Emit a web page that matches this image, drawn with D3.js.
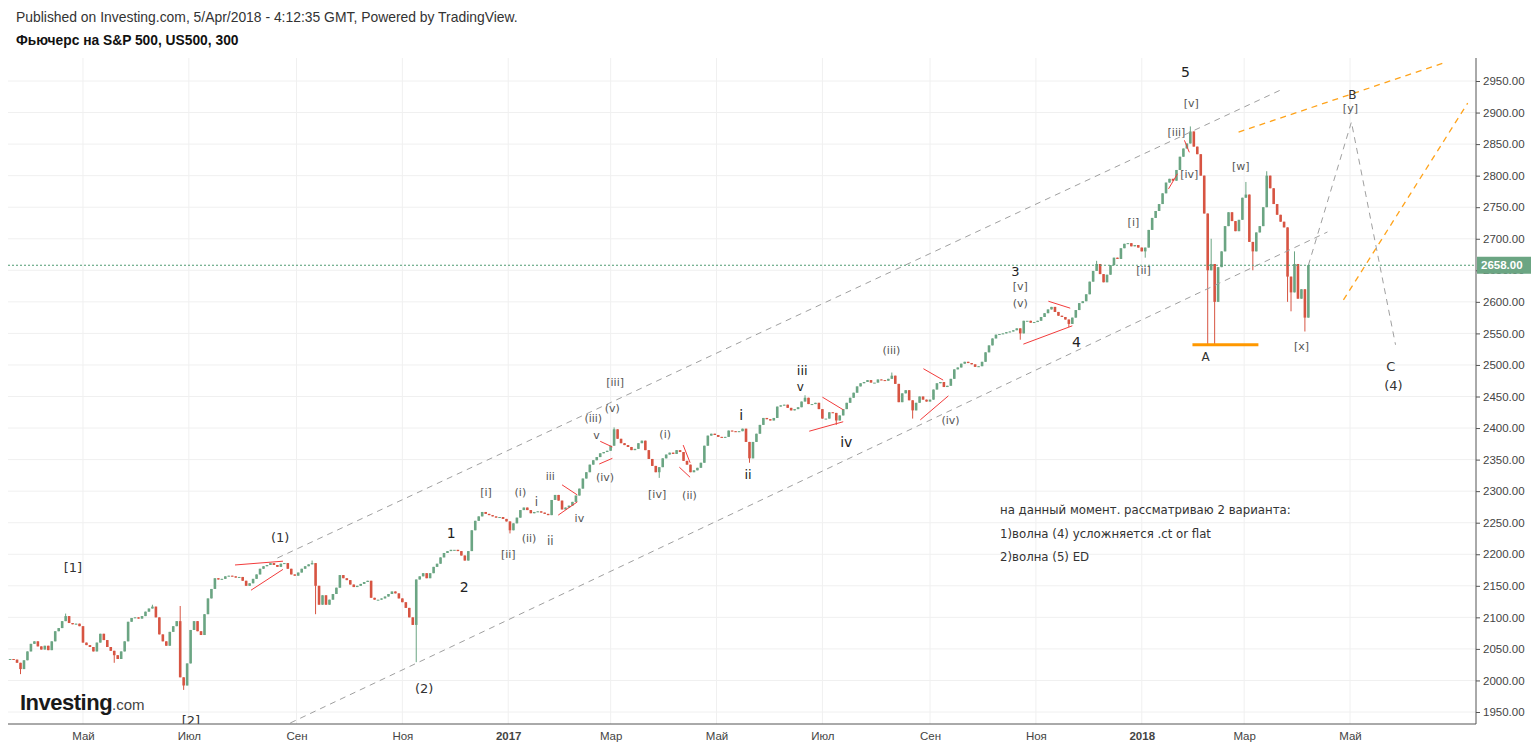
<!DOCTYPE html>
<html>
<head>
<meta charset="utf-8">
<script src="https://d3js.org/d3.v7.min.js"></script>
<style>
  body { margin: 0; background: #fff; }
  svg { display: block; }
</style>
</head>
<body>
<svg id="chart" width="1533" height="749"></svg>
<script>
// candles: one close every 2 days starting 20 Mar 2016 (open = previous close)
const startDate = new Date(2016, 2, 20);
const stepDays = 2;
const closes = [
  2034,2033,2028,2018,2032,2046,2058,2062,2054,2049,
  2055,2048,2062,2078,2083,2094,2102,2091,2089,2090,
  2086,2060,2056,2053,2046,2060,2074,2064,2053,2047,
  2040,2034,2046,2062,2093,2099,2100,2098,2102,2109,
  2114,2117,2100,2073,2062,2055,2077,2086,2094,2005,
  1992,2027,2080,2094,2078,2072,2105,2130,2145,2162,
  2160,2161,2165,2166,2165,2163,2164,2158,2150,2154,
  2161,2168,2177,2181,2183,2186,2183,2180,2185,2186,
  2177,2168,2166,2171,2177,2181,2184,2186,2150,2120,
  2135,2120,2128,2137,2147,2167,2162,2159,2152,2148,
  2150,2153,2156,2158,2131,2128,2128,2130,2133,2137,
  2141,2138,2130,2124,2115,2100,2088,2160,2165,2170,
  2162,2170,2180,2185,2195,2202,2205,2207,2207,2205,
  2198,2190,2205,2238,2253,2260,2267,2264,2262,2260,
  2258,2259,2256,2252,2238,2249,2258,2270,2274,2270,
  2265,2267,2268,2266,2264,2262,2286,2294,2285,2271,
  2274,2277,2283,2293,2304,2320,2330,2342,2349,2354,
  2360,2362,2364,2372,2398,2383,2376,2373,2370,2365,
  2367,2376,2380,2365,2351,2340,2330,2338,2352,2358,
  2361,2359,2365,2362,2348,2342,2330,2333,2337,2345,
  2372,2388,2391,2389,2386,2385,2386,2396,2395,2394,
  2395,2399,2378,2352,2378,2391,2405,2416,2414,2412,
  2416,2434,2436,2437,2432,2428,2430,2433,2442,2448,
  2438,2438,2440,2430,2415,2415,2425,2424,2412,2420,
  2430,2440,2448,2456,2466,2471,2473,2476,2472,2472,
  2477,2476,2475,2478,2483,2470,2441,2455,2460,2444,
  2428,2440,2450,2445,2442,2445,2461,2471,2473,2465,
  2467,2478,2493,2496,2502,2505,2503,2501,2497,2498,
  2505,2520,2531,2542,2548,2549,2550,2552,2553,2555,
  2558,2550,2570,2570,2567,2568,2570,2576,2582,2588,
  2592,2584,2578,2576,2572,2565,2575,2587,2598,2601,
  2612,2632,2649,2660,2644,2631,2643,2658,2670,2668,
  2685,2692,2693,2688,2690,2686,2680,2686,2714,2733,
  2744,2755,2772,2789,2795,2792,2809,2830,2843,2851,
  2870,2846,2834,2800,2740,2650,2660,2600,2655,2680,
  2720,2742,2728,2712,2730,2765,2770,2695,2680,2710,
  2720,2750,2800,2780,2755,2738,2727,2718,2640,2615,
  2660,2605,2620,2575,2658
];
// [candle index, price] of wicks that stick out of the body
const highSpikes = [[16,2106],[41,2120],[49,2118],[87,2190],[174,2401],[229,2452],[254,2488],
  [313,2665],[340,2878],[346,2700],[356,2790],[362,2807],[370,2680]];
const lowSpikes = [[3,2010],[30,2028],[50,1985],[88,2105],[117,2029],[144,2233],[187,2321],
  [213,2345],[238,2405],[260,2415],[291,2540],[305,2560],[327,2670],[345,2532],[347,2532],
  [358,2650],[368,2600],[369,2585],[373,2553]];

const priceTicks = [1950,2000,2050,2100,2150,2200,2250,2300,2350,2400,2450,2500,
  2550,2600,2650,2700,2750,2800,2850,2900,2950];
const monthTicks = ["2016-05-01","2016-07-01","2016-09-01","2016-11-01","2017-01-01","2017-03-01",
  "2017-05-01","2017-07-01","2017-09-01","2017-11-01","2018-01-01","2018-03-01","2018-05-01"];
const monthLabels = ["Май","Июл","Сен","Ноя","2017","Мар","Май","Июл","Сен","Ноя","2018","Мар","Май"];
const lastPrice = 2658;

// wave labels: [text, candle index, price, font size, colour]
const waveLabels = [
  ["[1]",18.1,2180,13,"#333"],["[2]",52.1,1937,13,"#333"],["(1)",77.8,2227,13,"#333"],
  ["(2)",119.3,1988,13,"#333"],["1",127.1,2234,14,"#222"],["2",130.8,2148,14,"#222"],
  ["[i]",137.1,2299,11,"#555"],["[ii]",143.5,2200,11,"#555"],["(i)",147.0,2299,11,"#555"],
  ["(ii)",149.5,2226,11,"#555"],["i",151.6,2284,12,"#555"],["ii",155.6,2221,12,"#555"],
  ["iii",155.6,2324,11,"#555"],["iv",164.0,2257,11,"#555"],["v",168.9,2389,11,"#555"],
  ["(iii)",168.0,2416,11,"#555"],["(v)",173.5,2432,11,"#555"],["[iii]",174.3,2473,11,"#555"],
  ["(iv)",171.4,2322,11,"#555"],["[iv]",186.4,2295,11,"#555"],["(i)",188.7,2391,11,"#555"],
  ["(ii)",195.7,2294,11,"#555"],["i",210.6,2421,14,"#222"],["ii",212.6,2326,13,"#222"],
  ["iii",228.2,2491,13,"#222"],["v",227.6,2466,12,"#222"],["iv",240.9,2378,14,"#222"],
  ["(iii)",253.9,2524,11,"#555"],["(iv)",270.9,2413,11,"#555"],["3",289.6,2649,13,"#222"],
  ["[v]",291.0,2625,11,"#555"],["(v)",291.0,2598,11,"#555"],["4",307.2,2536,14,"#222"],
  ["[i]",323.6,2726,11,"#555"],["[ii]",326.5,2650,11,"#555"],["5",338.6,2964,14,"#222"],
  ["[v]",340.3,2915,11,"#555"],["[iii]",336.0,2869,11,"#555"],["[iv]",339.7,2803,11,"#555"],
  ["A",344.4,2513,12,"#333"],["[w]",354.5,2815,11,"#555"],["[x]",372.0,2530,11,"#555"],
  ["B",386.7,2929,12,"#333"],["[y]",386.1,2907,11,"#555"],["C",397.7,2498,13,"#333"],
  ["(4)",398.5,2468,13,"#333"]
];

// lines: [index1, price1, index2, price2]
const channelLines = [[77,2194,366.5,2937],[80.7,1932.6,379.5,2710.7]];
const projectionPath = [[374,2658],[386.4,2885],[399.1,2532]];
const orangeDashed = [[353.9,2869,412.9,2978.5],[384.1,2603,419.9,2915]];
const orangeLevel = [340.6,2532,359.6,2532];
const redLines = [
  [64.8,2183,78.6,2189],[69.4,2143,78.6,2176],
  [159.0,2310,163.4,2294],[157.9,2262,163.4,2283],
  [170.0,2379,173.5,2370],[169.7,2343,173.5,2352],
  [193.9,2373,195.9,2345],[192.8,2338,195.9,2322],
  [234.0,2449,240.0,2429],[230.2,2395,240.0,2410],
  [263.1,2494,268.8,2476],[262.2,2413,270.3,2451],
  [299.1,2601,305.4,2590],[291.9,2533,306.0,2562],
  [333.7,2779,336.3,2803],[338.3,2856,339.7,2837]
];
const noteLines = [
  "на данный момент. рассматриваю 2 варианта:",
  "1)волна (4) усложняется .ct or flat",
  "2)волна (5) ED"
];

const svg = d3.select("#chart");
const plotLeft = 8, plotRight = 1476, plotTop = 58, plotBottom = 724;
const upColor = "#6ba583", downColor = "#d75442";

const x = d3.scaleTime()
  .domain([new Date(2016, 2, 18, 19), new Date(2018, 6, 12)])
  .range([plotLeft, 1475]);
const y = d3.scaleLinear().domain([1950, 2950]).range([712, 81]);
const dateAt = i => d3.timeHour.offset(startDate, Math.round(i * stepDays * 24));
const parse = d3.timeParse("%Y-%m-%d");
const tickDates = monthTicks.map(parse);

svg.append("rect").attr("width", 1533).attr("height", 749).attr("fill", "#fff");

// header
svg.append("text").attr("x", 16).attr("y", 22)
  .attr("font-family", "Liberation Sans, Arial, sans-serif").attr("font-size", 13.9).attr("fill", "#333")
  .text("Published on Investing.com, 5/Apr/2018 - 4:12:35 GMT, Powered by TradingView.");
svg.append("text").attr("x", 16).attr("y", 45)
  .attr("font-family", "Liberation Sans, Arial, sans-serif").attr("font-size", 13.8)
  .attr("font-weight", "bold").attr("fill", "#111")
  .text("Фьючерс на S&P 500, US500, 300");

// grid
const grid = svg.append("g");
grid.selectAll(".vg").data(tickDates).enter().append("line")
  .attr("x1", d => x(d)).attr("x2", d => x(d)).attr("y1", plotTop).attr("y2", plotBottom)
  .attr("stroke", "#f0f0f0");
grid.selectAll(".hg").data(priceTicks).enter().append("line")
  .attr("x1", plotLeft).attr("x2", plotRight).attr("y1", d => y(d)).attr("y2", d => y(d))
  .attr("stroke", "#f0f0f0");

svg.append("clipPath").attr("id", "plot").append("rect")
  .attr("x", plotLeft).attr("y", plotTop).attr("width", plotRight - plotLeft).attr("height", plotBottom - plotTop);
const plot = svg.append("g").attr("clip-path", "url(#plot)");

// investing logo
const logo = svg.append("text").attr("x", 20).attr("y", 710)
  .attr("font-family", "Liberation Sans, Arial, sans-serif");
logo.append("tspan").attr("font-size", 22).attr("font-weight", "bold").attr("fill", "#1a1a1a")
  .attr("letter-spacing", -0.5).text("Investing");
logo.append("tspan").attr("font-size", 15).attr("fill", "#444").text(".com");

// candles
const highMap = new Map(highSpikes), lowMap = new Map(lowSpikes);
const candles = closes.map((c, i) => {
  const o = i ? closes[i - 1] : c;
  let h = Math.max(o, c), l = Math.min(o, c);
  if (highMap.has(i)) h = Math.max(h, highMap.get(i));
  if (lowMap.has(i)) l = Math.min(l, lowMap.get(i));
  return { date: dateAt(i), o, h, l, c };
});
const bw = 2.6;
const cg = plot.append("g");
cg.selectAll(".wick").data(candles).enter().append("line")
  .attr("x1", d => x(d.date)).attr("x2", d => x(d.date))
  .attr("y1", d => y(d.h)).attr("y2", d => y(d.l))
  .attr("stroke", d => d.c >= d.o ? upColor : downColor).attr("stroke-width", 1);
cg.selectAll(".body").data(candles).enter().append("rect")
  .attr("x", d => x(d.date) - bw / 2).attr("width", bw)
  .attr("y", d => y(Math.max(d.o, d.c)))
  .attr("height", d => Math.max(1, Math.abs(y(d.o) - y(d.c))))
  .attr("fill", d => d.c >= d.o ? upColor : downColor);

// annotation lines
const seg = (g, data, color, dash, width) => g.selectAll(null).data(data).enter().append("line")
  .attr("x1", d => x(dateAt(d[0]))).attr("y1", d => y(d[1]))
  .attr("x2", d => x(dateAt(d[2]))).attr("y2", d => y(d[3]))
  .attr("stroke", color).attr("stroke-width", width).attr("stroke-dasharray", dash);

seg(plot, channelLines, "#a0a0a0", "6,5", 1);
seg(plot, orangeDashed, "#ffa31a", "6,5", 1.3);
seg(plot, [orangeLevel], "#ff9800", null, 3);
seg(plot, redLines, "#f23b3b", null, 1);
plot.append("path")
  .datum(projectionPath)
  .attr("d", d3.line().x(d => x(dateAt(d[0]))).y(d => y(d[1])))
  .attr("fill", "none").attr("stroke", "#a0a0a0").attr("stroke-width", 1)
  .attr("stroke-dasharray", "6,5");

// last price line
plot.append("line").attr("x1", plotLeft).attr("x2", plotRight)
  .attr("y1", y(lastPrice)).attr("y2", y(lastPrice))
  .attr("stroke", "#4f9b71").attr("stroke-dasharray", "2,2");

// wave labels
plot.selectAll(".wl").data(waveLabels).enter().append("text")
  .attr("x", d => x(dateAt(d[1]))).attr("y", d => y(d[2]))
  .attr("dy", "0.36em").attr("text-anchor", "middle")
  .attr("font-family", "DejaVu Sans, Verdana, sans-serif")
  .attr("font-size", d => d[3]).attr("fill", d => d[4])
  .text(d => d[0]);

// note
svg.selectAll(".note").data(noteLines).enter().append("text")
  .attr("x", 1000).attr("y", (d, i) => 514 + i * 23.5)
  .attr("font-family", "DejaVu Sans, Verdana, sans-serif").attr("font-size", 11.75)
  .attr("fill", "#333").text(d => d);

// axes
const font = "Liberation Sans, Arial, sans-serif";
const yAxis = svg.append("g").attr("transform", `translate(${plotRight},0)`)
  .call(d3.axisRight(y).tickValues(priceTicks).tickFormat(d3.format(".2f")).tickSize(4).tickPadding(3));
yAxis.select(".domain").remove();
yAxis.selectAll("line").attr("stroke", "#555");
yAxis.selectAll("text").attr("font-family", font).attr("font-size", 11.5).attr("fill", "#444");

const xAxis = svg.append("g").attr("transform", `translate(0,${plotBottom})`)
  .call(d3.axisBottom(x).tickValues(tickDates).tickFormat((d, i) => monthLabels[i]).tickSize(0).tickPadding(8));
xAxis.select(".domain").remove();
xAxis.selectAll("text").attr("font-family", font).attr("font-size", 11.5).attr("fill", "#444")
  .attr("font-weight", (d, i) => /^\d+$/.test(monthLabels[i]) ? "bold" : "normal");

svg.append("line").attr("x1", plotLeft).attr("x2", plotRight).attr("y1", plotBottom).attr("y2", plotBottom)
  .attr("stroke", "#555");
svg.append("line").attr("x1", plotRight).attr("x2", plotRight).attr("y1", plotTop).attr("y2", plotBottom)
  .attr("stroke", "#555");

// last price tag (covers the 2650 label, as in the original)
const tag = svg.append("g").attr("transform", `translate(${plotRight},${y(lastPrice)})`);
tag.append("rect").attr("x", 1).attr("y", -8.5).attr("width", 54).attr("height", 17).attr("fill", "#6ba583");
tag.append("text").attr("x", 5).attr("y", 0).attr("dy", "0.35em")
  .attr("font-family", font).attr("font-size", 11.5).attr("font-weight", "bold").attr("fill", "#fff")
  .text(d3.format(".2f")(lastPrice));
</script>
</body>
</html>
